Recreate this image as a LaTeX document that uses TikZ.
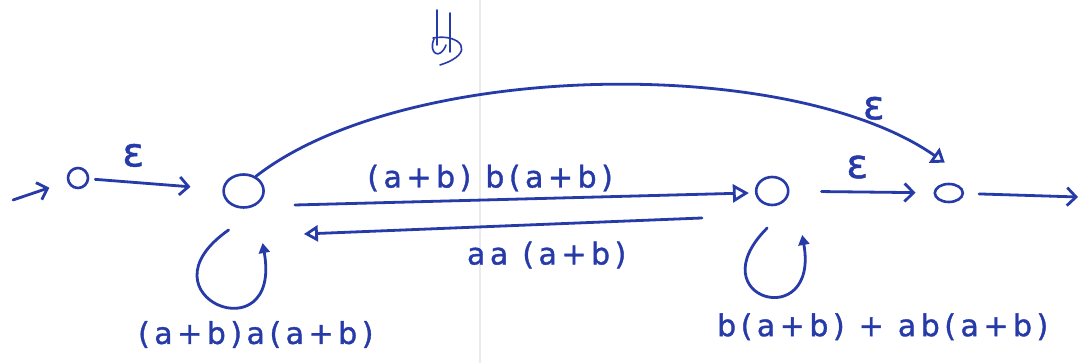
\documentclass[tikz,border=0pt]{standalone}
\usepackage{fontspec}
\usetikzlibrary{arrows.meta,positioning,shapes.geometric}
\newfontfamily\handfont[LetterSpace=15,FakeBold=1.2]{DejaVu Sans}
\newfontfamily\epsglyph[FakeBold=1.2]{DejaVu Sans}
\definecolor{ink}{RGB}{38,58,168}
\newcommand{\labelfont}{\handfont\fontsize{30}{34}\selectfont}
\newcommand{\epsfont}{\epsglyph\fontsize{40}{44}\selectfont}

\begin{document}
\begin{tikzpicture}[
  x=1pt,y=1pt,
  every node/.style={font=\labelfont,text=ink,inner sep=2pt},
  st/.style={draw=ink,ellipse,line width=2.6pt,inner sep=0pt},
  conn/.style={draw=ink,line width=2.8pt,line cap=round},
  barb/.style={conn,-{Straight Barb[length=9pt,width=18pt]}},
  tri/.style={conn,-{Triangle[open,length=16pt,width=18pt]}},
  back/.style={conn,-{Triangle[open,length=14pt,width=16pt]}},
  cv/.style={conn,-{Triangle[open,length=13pt,width=18pt]}},
  loopy/.style={conn,-{Triangle[length=10pt,width=11pt]}},
  eps/.style={font=\epsfont},
  scrib/.style={draw=ink,line width=1.6pt,line cap=round},
]
\useasboundingbox (0,0) rectangle (1080,363);
\fill[white] (0,0) rectangle (1080,363);
\draw[black!8,line width=1.5pt] (480,0) -- (480,363);

% states
\node[st,minimum width=20pt,minimum height=20pt] (q0) at (78,185) {};
\node[st,minimum width=40pt,minimum height=33pt,right=133pt of q0,yshift=-13pt] (q1) {};
\node[st,minimum width=32pt,minimum height=28pt,right=490pt of q1] (q2) {};
\node[st,minimum width=28pt,minimum height=18pt,right=144pt of q2,yshift=-2pt] (q3) {};
\coordinate (start) at (13,163);
\coordinate (exit) at (1078,166);

% transitions
\draw[barb,shorten >=19pt] (start) -- (q0);
\draw[barb,shorten <=6pt,shorten >=32pt] (q0) -- node[eps,above=12pt,pos=0.33] {ε} (q1);
\draw[tri] ([shift={(30pt,-14pt)}]q1.east) -- node[above=5pt,pos=0.43] {(a+b) b(a+b)} ([shift={(-6pt,-2pt)}]q2.west);
\draw[back] ([shift={(-53pt,-27pt)}]q2.west) -- node[below=14pt,pos=0.39] {aa (a+b)} ([shift={(39pt,-43pt)}]q1.east);
\draw[barb,shorten <=32pt,shorten >=18pt] (q2) -- node[eps,above=10pt,pos=0.47] {ε} (q3);
\draw[barb,shorten <=15pt] (q3) -- (exit);
\draw[cv] (q1.50) to[out=38,in=145,looseness=0.7] node[eps,pos=0.87,above=3pt] {ε} ([shift={(-4pt,20pt)}]q3.north);

% loops
\draw[loopy] ([shift={(-15pt,-39pt)}]q1.center) .. controls +(215:115) and +(-80:115) .. node[pos=0.5,below=14pt,xshift=38pt] {(a+b)a(a+b)} ([shift={(19pt,-52pt)}]q1.center);
\draw[loopy] ([shift={(-5pt,-37pt)}]q2.center) .. controls +(225:100) and +(-80:100) .. node[pos=0.5,below=15pt,xshift=118pt] {b(a+b) + ab(a+b)} ([shift={(30pt,-44pt)}]q2.center);

% scribble
\draw[scrib] (437,353) -- (437,318);
\draw[scrib] (450,350) -- (450,311);
\draw[scrib] (433,325) .. controls (460,330) and (478,310) .. (440,298);
\draw[scrib] (434,324) .. controls (428,310) and (440,302) .. (446,318);
\end{tikzpicture}
\end{document}
